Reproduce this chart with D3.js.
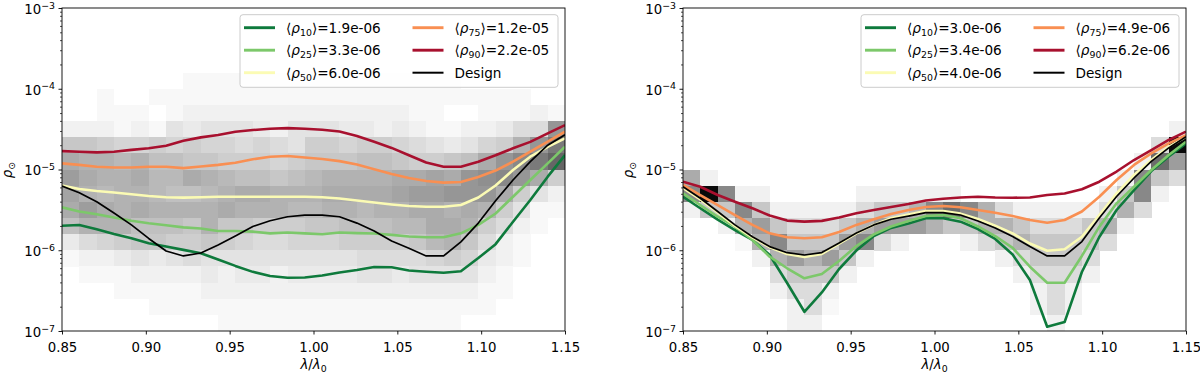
<!DOCTYPE html>
<html><head><meta charset="utf-8">
<script src="https://cdn.jsdelivr.net/npm/d3@7"></script>
<style>
body{margin:0;background:#fff}
svg{display:block}
text{font-family:"DejaVu Sans",sans-serif;fill:#000}
</style>
</head><body>
<svg id="c" width="1200" height="375"></svg>
<script>
// ---------- DATA ----------
const lambda = [0.8500,0.8603,0.8707,0.8810,0.8914,0.9017,0.9121,0.9224,0.9328,0.9431,0.9534,0.9638,0.9741,0.9845,0.9948,
                1.0052,1.0155,1.0259,1.0362,1.0466,1.0569,1.0672,1.0776,1.0879,1.0983,1.1086,1.1190,1.1293,1.1397,1.1500];
const rhoEdgesLog = [-3,-3.2,-3.4,-3.6,-3.8,-4,-4.2,-4.4,-4.6,-4.8,-5,-5.2,-5.4,-5.6,-5.8,-6,-6.2,-6.4,-6.6,-6.8,-7];
const xTicks = [0.85,0.90,0.95,1.00,1.05,1.10,1.15];
const yMajor = [1e-7,1e-6,1e-5,1e-4,1e-3];
const seriesNames = ["p10","p25","p50","p75","p90","Design"];

const leftP10 = [2.01e-6,2.05e-6,1.82e-6,1.59e-6,1.41e-6,1.22e-6,1.11e-6,1.01e-6,9.2e-7,7.7e-7,6.4e-7,5.4e-7,4.8e-7,4.57e-7,4.6e-7,4.86e-7,5.3e-7,5.69e-7,6.2e-7,6.16e-7,5.61e-7,5.42e-7,5.27e-7,5.5e-7,8.0e-7,1.19e-6,2.25e-6,4.19e-6,8.15e-6,1.51e-5];
const leftP25 = [3.4e-6,3.02e-6,2.79e-6,2.55e-6,2.32e-6,2.16e-6,2.04e-6,1.92e-6,1.86e-6,1.73e-6,1.73e-6,1.7e-6,1.62e-6,1.66e-6,1.62e-6,1.58e-6,1.66e-6,1.63e-6,1.61e-6,1.55e-6,1.48e-6,1.45e-6,1.45e-6,1.62e-6,2.06e-6,2.85e-6,4.6e-6,7.41e-6,1.19e-5,1.91e-5];
const leftP50 = [6.34e-6,5.74e-6,5.42e-6,5.19e-6,4.93e-6,4.7e-6,4.53e-6,4.49e-6,4.53e-6,4.6e-6,4.6e-6,4.6e-6,4.6e-6,4.6e-6,4.6e-6,4.53e-6,4.38e-6,4.13e-6,3.9e-6,3.69e-6,3.53e-6,3.46e-6,3.46e-6,3.63e-6,4.5e-6,6.34e-6,9.86e-6,1.44e-5,1.91e-5,2.43e-5];
const leftP75 = [1.19e-5,1.14e-5,1.08e-5,1.06e-5,1.06e-5,1.08e-5,1.08e-5,1.04e-5,1.09e-5,1.14e-5,1.21e-5,1.34e-5,1.44e-5,1.47e-5,1.41e-5,1.35e-5,1.27e-5,1.15e-5,1.01e-5,8.8e-6,7.85e-6,7.2e-6,6.87e-6,7.0e-6,8.07e-6,9.7e-6,1.25e-5,1.66e-5,2.21e-5,2.94e-5];
const leftP90 = [1.69e-5,1.66e-5,1.63e-5,1.66e-5,1.75e-5,1.83e-5,1.97e-5,2.27e-5,2.5e-5,2.67e-5,2.94e-5,3.08e-5,3.2e-5,3.25e-5,3.2e-5,3.1e-5,2.95e-5,2.6e-5,2.2e-5,1.85e-5,1.5e-5,1.22e-5,1.08e-5,1.08e-5,1.25e-5,1.5e-5,1.83e-5,2.2e-5,2.8e-5,3.55e-5];
const leftDesign = [6.25e-6,5.16e-6,3.99e-6,2.89e-6,2.06e-6,1.4e-6,9.8e-7,8.5e-7,9.25e-7,1.16e-6,1.5e-6,1.97e-6,2.32e-6,2.6e-6,2.73e-6,2.73e-6,2.6e-6,2.17e-6,1.73e-6,1.3e-6,1.06e-6,8.5e-7,8.5e-7,1.27e-6,2.17e-6,4.11e-6,7.41e-6,1.25e-5,2.0e-5,2.7e-5];
const leftLegendVals = ["1.9e-06","3.3e-06","6.0e-06","1.2e-05","2.2e-05"];

const rightP10 = [4.6e-6,3.31e-6,2.39e-6,1.78e-6,1.34e-6,8.73e-7,3.93e-7,1.73e-7,3.0e-7,5.86e-7,9.93e-7,1.5e-6,1.89e-6,2.14e-6,2.49e-6,2.49e-6,2.26e-6,1.83e-6,1.38e-6,8.85e-7,4.28e-7,1.13e-7,1.29e-7,5.38e-7,1.46e-6,3.15e-6,5.57e-6,9.57e-6,1.45e-5,2.11e-5];
const rightP25 = [5.07e-6,3.63e-6,2.6e-6,1.96e-6,1.34e-6,8.32e-7,5.98e-7,4.5e-7,5.08e-7,7.36e-7,1.13e-6,1.57e-6,1.97e-6,2.3e-6,2.65e-6,2.73e-6,2.49e-6,1.97e-6,1.5e-6,1.07e-6,6.25e-7,3.96e-7,3.96e-7,8.5e-7,1.96e-6,3.81e-6,6.12e-6,9.86e-6,1.51e-5,2.21e-5];
const rightP50 = [5.9e-6,4.25e-6,2.93e-6,2.0e-6,1.44e-6,1.09e-6,9.0e-7,8.24e-7,9.0e-7,1.21e-6,1.62e-6,2.06e-6,2.49e-6,2.76e-6,3.05e-6,3.05e-6,2.84e-6,2.44e-6,2.02e-6,1.62e-6,1.21e-6,9.86e-7,1.03e-6,1.47e-6,2.73e-6,5.07e-6,8.55e-6,1.31e-5,1.91e-5,2.55e-5];
const rightP75 = [6.43e-6,4.83e-6,3.63e-6,2.73e-6,2.06e-6,1.62e-6,1.45e-6,1.41e-6,1.45e-6,1.68e-6,2.06e-6,2.42e-6,2.81e-6,3.15e-6,3.43e-6,3.53e-6,3.41e-6,3.15e-6,2.92e-6,2.65e-6,2.37e-6,2.19e-6,2.37e-6,3.02e-6,4.6e-6,7.41e-6,1.14e-5,1.58e-5,2.11e-5,2.67e-5];
const rightP90 = [7.06e-6,6.12e-6,4.83e-6,3.99e-6,3.31e-6,2.69e-6,2.33e-6,2.26e-6,2.31e-6,2.55e-6,2.87e-6,3.15e-6,3.43e-6,3.74e-6,4.13e-6,4.35e-6,4.5e-6,4.6e-6,4.5e-6,4.47e-6,4.5e-6,4.83e-6,5.04e-6,5.69e-6,7.06e-6,9.44e-6,1.31e-5,1.74e-5,2.32e-5,2.94e-5];
const rightDesign = [6.12e-6,4.4e-6,3.02e-6,2.06e-6,1.47e-6,1.11e-6,9.33e-7,8.73e-7,9.35e-7,1.23e-6,1.64e-6,2.06e-6,2.42e-6,2.65e-6,2.93e-6,2.93e-6,2.73e-6,2.3e-6,1.89e-6,1.48e-6,1.11e-6,8.5e-7,8.5e-7,1.28e-6,2.51e-6,4.63e-6,7.85e-6,1.26e-5,1.85e-5,2.55e-5];
const rightLegendVals = ["3.0e-06","3.4e-06","4.0e-06","4.9e-06","6.2e-06"];

// 2D histogram density (rows from rho=1e-3 downwards, 29 lambda bins; base-36 level per cell)
const leftHeat = [
"00000 00000 00000 00000 00000 0000",
"00000 00000 00000 00000 00000 0000",
"00000 00000 00000 00000 00000 0000",
"00000 00000 00000 00000 00000 0000",
"00000 00111 11111 11111 11100 0000",
"00100 11111 11111 11111 11111 1100",
"00111 01222 22222 22222 11001 1121",
"22212 14344 43244 43323 21122 355f",
"88766 76766 56547 76776 54346 7bfj",
"cbbab 99887 77678 88998 7789c fhjm",
"ecbbc aacba 9989a bbbbc cdcfg hfc7",
"dbabb a99ab ccbbb ccccd eefff c742",
"cecbc bbbbc bbbaa bbabb ccbcb 7411",
"9bbb9 998b8 87778 8999a accb7 5210",
"35678 87787 65566 67777 8ab85 2100",
"12234 34544 44444 44555 56763 2100",
"01112 22232 33233 33443 44442 1000",
"00011 11122 22222 22222 22221 1000",
"00000 11111 11111 11111 11111 0000",
"00000 00001 11111 11111 11100 0000"
];
const rightHeat = [
"00000 00000 00000 00000 00000 0000",
"00000 00000 00000 00000 00000 0000",
"00000 00000 00000 00000 00000 0000",
"00000 00000 00000 00000 00000 0000",
"00000 00000 00000 00000 00000 0000",
"00000 00000 00000 00000 00000 0000",
"00000 00000 00000 00000 00000 0000",
"00000 00000 00000 00000 00000 0002",
"00000 00000 00000 00000 00000 005z",
"00000 00000 00000 00000 00000 02le",
"c2000 00000 00000 00000 00000 2h85",
"hzh22 00000 22222 20000 00002 8h20",
"288h8 22222 588bh lhb52 22225 b500",
"002be 85558 beeeb 88bb8 5558b 2000",
"0001b h888e h5200 0258b 88885 0000",
"00002 bebe8 20000 00025 88850 0000",
"00000 58882 00000 00002 55520 0000",
"00000 25520 00000 00000 25200 0000",
"00000 02510 00000 00000 25200 0000",
"00000 02200 00000 00000 02000 0000"
];

// ---------- STYLE ----------
const colors = {p10:"#0e7a3c", p25:"#7cc86a", p50:"#fbfbb4", p75:"#f98f52", p90:"#a8102e", Design:"#000000"};
const widths = {p10:2.6, p25:2.6, p50:2.6, p75:2.6, p90:2.6, Design:1.7};
const FS = 13.3, FSsub = 9.4;
const yTop = 8, yBot = 331;

const svg = d3.select('#c');

const panels = [
  {x0:62, x1:565, heat:leftHeat, series:{p10:leftP10,p25:leftP25,p50:leftP50,p75:leftP75,p90:leftP90,Design:leftDesign}, leg:leftLegendVals},
  {x0:683, x1:1186, heat:rightHeat, series:{p10:rightP10,p25:rightP25,p50:rightP50,p75:rightP75,p90:rightP90,Design:rightDesign}, leg:rightLegendVals}
];

const minorTicks = [];
for (let e=-7; e<-3; e++) for (let m=2; m<=9; m++) minorTicks.push(m*Math.pow(10,e));

panels.forEach((p,pi) => {
  const x = d3.scaleLinear().domain([0.85,1.15]).range([p.x0,p.x1]);
  const y = d3.scaleLog().domain([1e-7,1e-3]).range([yBot,yTop]);
  const g = svg.append('g');

  // heatmap
  const cells = [];
  p.heat.forEach((row,r) => {
    const s = row.replace(/ /g,'');
    for (let c=0; c<29; c++) {
      const v = parseInt(s[c] || '0', 36);
      if (v > 0) cells.push({c, r, v});
    }
  });
  g.append('g').attr('shape-rendering','crispEdges')
    .selectAll('rect').data(cells).join('rect')
    .attr('x', d => x(lambda[d.c]))
    .attr('width', d => x(lambda[d.c+1]) - x(lambda[d.c]) + 0.3)
    .attr('y', d => y(Math.pow(10, rhoEdgesLog[d.r])))
    .attr('height', d => y(Math.pow(10, rhoEdgesLog[d.r+1])) - y(Math.pow(10, rhoEdgesLog[d.r])) + 0.3)
    .attr('fill', d => { const gv = Math.max(0, 255 - d.v*7); return `rgb(${gv},${gv},${gv})`; });

  // lines
  const clipId = 'clip'+pi;
  svg.append('clipPath').attr('id',clipId).append('rect')
    .attr('x',p.x0).attr('y',yTop).attr('width',p.x1-p.x0).attr('height',yBot-yTop);
  const line = d3.line().x((d,i) => x(lambda[i])).y(d => y(d));
  const lg = g.append('g').attr('clip-path',`url(#${clipId})`);
  seriesNames.forEach(k => {
    lg.append('path').datum(p.series[k]).attr('d', line)
      .attr('fill','none').attr('stroke',colors[k]).attr('stroke-width',widths[k])
      .attr('stroke-linejoin','round').attr('stroke-linecap','butt');
  });

  // frame
  g.append('rect').attr('x',p.x0).attr('y',yTop).attr('width',p.x1-p.x0).attr('height',yBot-yTop)
    .attr('fill','none').attr('stroke','#000').attr('stroke-width',0.9);

  // x axis
  const xa = g.append('g').attr('transform',`translate(0,${yBot})`)
    .call(d3.axisBottom(x).tickValues(xTicks).tickFormat(d3.format('.2f')).tickSizeInner(3.5).tickSizeOuter(0));
  xa.select('.domain').remove();
  xa.selectAll('line').attr('stroke','#000').attr('stroke-width',0.9);
  xa.selectAll('text').attr('y',20.5).attr('dy',null).attr('font-size',FS).attr('font-family','DejaVu Sans').attr('fill','#000');

  // y axis minor
  const ym = g.append('g').attr('transform',`translate(${p.x0},0)`)
    .call(d3.axisLeft(y).tickValues(minorTicks).tickFormat('').tickSizeInner(2).tickSizeOuter(0));
  ym.select('.domain').remove();
  ym.selectAll('line').attr('stroke','#000').attr('stroke-width',0.7);
  ym.selectAll('text').remove();

  // y axis major
  const ya = g.append('g').attr('transform',`translate(${p.x0},0)`)
    .call(d3.axisLeft(y).tickValues(yMajor).tickSizeInner(3.5).tickSizeOuter(0));
  ya.select('.domain').remove();
  ya.selectAll('line').attr('stroke','#000').attr('stroke-width',0.9);
  ya.selectAll('.tick text').each(function(d) {
    const t = d3.select(this);
    const e = Math.round(Math.log10(d));
    t.text(null).attr('x',-7).attr('y',5.3).attr('dy',null).attr('font-size',FS)
      .attr('font-family','DejaVu Sans').attr('fill','#000').attr('text-anchor','end');
    t.append('tspan').text('10');
    t.append('tspan').attr('font-size',FSsub).attr('dy',-5.2).text('\u2212'+Math.abs(e));
  });

  // axis labels
  const xl = g.append('text').attr('x',(p.x0+p.x1)/2).attr('y',369).attr('text-anchor','middle').attr('font-size',FS);
  xl.append('tspan').attr('font-style','italic').text('\u03bb');
  xl.append('tspan').text('/');
  xl.append('tspan').attr('font-style','italic').text('\u03bb');
  xl.append('tspan').attr('font-size',FSsub).attr('dy',3).text('0');

  const yl = g.append('text').attr('transform',`translate(${p.x0-50},170) rotate(-90)`).attr('text-anchor','middle').attr('font-size',FS);
  yl.append('tspan').attr('font-style','italic').text('\u03c1');
  yl.append('tspan').attr('font-size',FSsub).attr('dy',3).text('\u2299');

  // legend
  const bx = p.x1 - 7 - 318, by = 14.7, bw = 318, bh = 72.6;
  const leg = g.append('g');
  leg.append('rect').attr('x',bx).attr('y',by).attr('width',bw).attr('height',bh).attr('rx',3)
    .attr('fill','#fff').attr('fill-opacity',0.8).attr('stroke','#cccccc').attr('stroke-width',1);
  const subs = ["10","25","50","75","90"];
  const entries = seriesNames.map((k,i) => ({k, i, label: i<5 ? {sub:subs[i], val:p.leg[i]} : null}));
  entries.forEach(en => {
    const col = en.i < 3 ? 0 : 1, row = en.i % 3;
    const lx = bx + (col===0 ? 4 : 172.5);
    const ry = 27.7 + row*22.5;
    leg.append('line').attr('x1',lx).attr('x2',lx+31).attr('y1',ry).attr('y2',ry)
      .attr('stroke',colors[en.k]).attr('stroke-width',widths[en.k]+0.3);
    const t = leg.append('text').attr('x',lx+42).attr('y',ry+4.9).attr('font-size',13.6);
    if (en.label) {
      t.append('tspan').text('\u27e8');
      t.append('tspan').attr('font-style','italic').text('\u03c1');
      t.append('tspan').attr('font-size',FSsub).attr('dy',3).text(en.label.sub);
      t.append('tspan').attr('dy',-3).text('\u27e9=' + en.label.val);
    } else {
      t.text('Design');
    }
  });
});
</script>
</body></html>
